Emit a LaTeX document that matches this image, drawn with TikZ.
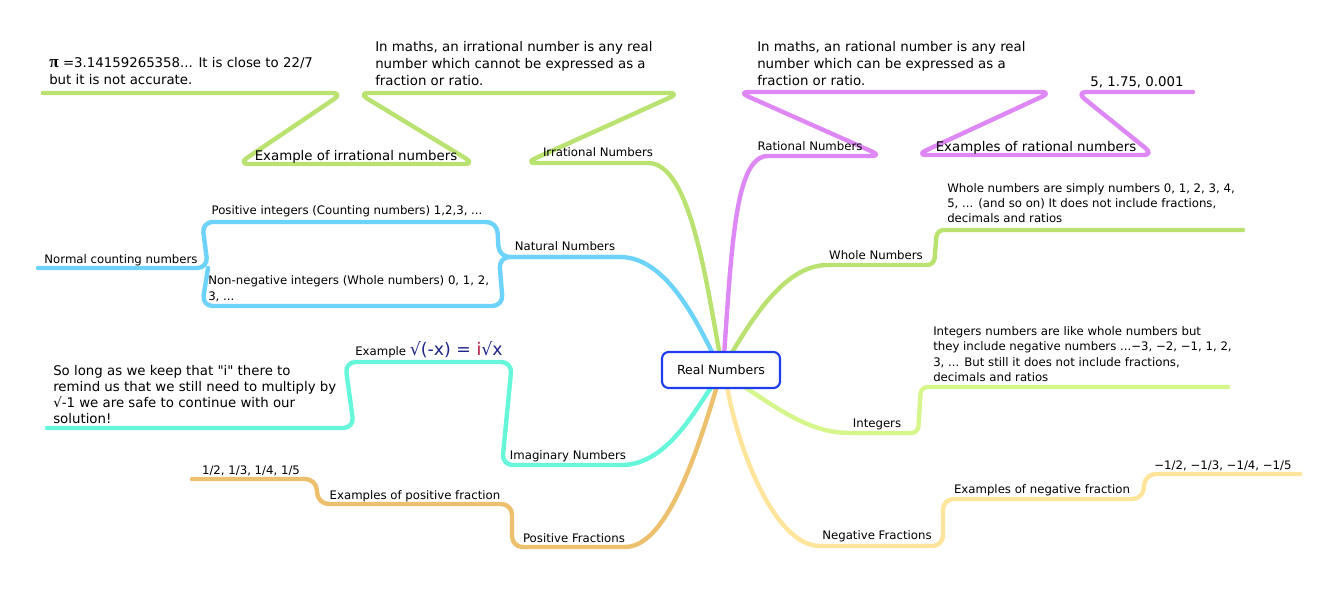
\documentclass[tikz,border=0pt]{standalone}
\usepackage{fontspec}
\setmainfont{DejaVu Sans}[Ligatures=TeXOff]
\newfontfamily\piserif{Liberation Serif}
\definecolor{irrc}{HTML}{B9E270}
\definecolor{ratc}{HTML}{DD88F4}
\definecolor{natc}{HTML}{6ED3FA}
\definecolor{intc}{HTML}{D4F68A}
\definecolor{imc}{HTML}{66F6DA}
\definecolor{posc}{HTML}{EDC06E}
\definecolor{negc}{HTML}{FFE49B}
\definecolor{rblue}{HTML}{1E3CF0}
\definecolor{navy}{HTML}{1E2488}
\definecolor{imred}{HTML}{B0103A}
\begin{document}
\begin{tikzpicture}[x=0.75pt,y=-0.75pt,
  br/.style={line width=3.3pt,line cap=round,line join=round},
  hp/.style={br,rounded corners=8pt},
  rc/.style={br,rounded corners=5pt},
  lbl/.style={font=\fontsize{8.8}{11}\selectfont,inner sep=0pt,anchor=base},
  biglbl/.style={font=\fontsize{10}{12.75}\selectfont,inner sep=0pt,anchor=base},
  para/.style={inner sep=0pt,anchor=north west,align=left},
]
\useasboundingbox (0,0) rectangle (1338,591);

% ---------- coordinates ----------
\coordinate (sIrr) at (720,356);
\coordinate (irrR) at (648,163);
\coordinate (irrL) at (525,163);
\coordinate (irdR) at (680,93);
\coordinate (irdL) at (358,93);
\coordinate (exiR) at (475,164);
\coordinate (exiL) at (238,164);
\coordinate (piR) at (343,93);
\coordinate (piL) at (43,93);

\coordinate (sRat) at (724,356);
\coordinate (ratL) at (768,156);
\coordinate (ratR) at (882,156);
\coordinate (rdL) at (738,92);
\coordinate (rdR) at (1052,92);
\coordinate (exrL) at (916,155);
\coordinate (exrR) at (1154,155);
\coordinate (rvL) at (1076,92);
\coordinate (rvR) at (1193,92);

\coordinate (sWh) at (730,356);
\coordinate (whL) at (828,265);
\coordinate (whR) at (934,265);
\coordinate (wdL) at (937,230);
\coordinate (wdR) at (1243,230);

\coordinate (sInt) at (740,384);
\coordinate (intL) at (850,433);
\coordinate (intR) at (918,433);
\coordinate (idL) at (921,387);
\coordinate (idR) at (1228,387);

\coordinate (sNat) at (714,356);
\coordinate (natR) at (620,257);
\coordinate (natL) at (499,257);
\coordinate (pnR) at (497,222);
\coordinate (pnL) at (202,222);
\coordinate (nmR) at (208,268);
\coordinate (nmL) at (38,268);
\coordinate (nnR) at (503,306);
\coordinate (nnL) at (202,306);

\coordinate (sIm) at (714,384);
\coordinate (imR) at (622,465);
\coordinate (imL) at (502,465);
\coordinate (eiR) at (512,362);
\coordinate (eiL) at (345,362);
\coordinate (imdR) at (354,428);
\coordinate (imdL) at (47,428);

\coordinate (sPos) at (717,386);
\coordinate (poR) at (625,547);
\coordinate (poL) at (512,547);
\coordinate (epR) at (512,504);
\coordinate (epL) at (318,504);
\coordinate (pvR) at (316,479);
\coordinate (pvL) at (192,479);

\coordinate (sNeg) at (727,386);
\coordinate (ngL) at (820,546);
\coordinate (ngR) at (943,546);
\coordinate (enL) at (943,499);
\coordinate (enR) at (1143,499);
\coordinate (nvL) at (1145,474);
\coordinate (nvR) at (1300,474);

% ---------- branches ----------
\draw[br,irrc] (sIrr) .. controls (706,280) and (690,163) .. (irrR);
\draw[hp,irrc] (irrR) -- (irrL) -- (irdR) -- (irdL) -- (exiR) -- (exiL) -- (piR) -- (piL);

\draw[br,ratc] (sRat) .. controls (732,240) and (736,156) .. (ratL);
\draw[hp,ratc] (ratL) -- (ratR) -- (rdL) -- (rdR) -- (exrL) -- (exrR) -- (rvL) -- (rvR);

\draw[br,irrc] (sWh) .. controls (760,305) and (790,265) .. (whL);
\draw[rc,irrc] (whL) -- (whR) -- (wdL) -- (wdR);

\draw[br,intc] (sInt) .. controls (780,410) and (810,433) .. (intL);
\draw[rc,intc] (intL) -- (intR) -- (idL) -- (idR);

\draw[br,natc] (sNat) .. controls (695,318) and (665,257) .. (natR);
\draw[hp,natc] (natR) -- (natL) -- (pnR) -- (pnL) -- (nmR) -- (nmL);
\draw[hp,natc] (natR) -- (natL) -- (nnR) -- (nnL) -- (nmR);

\draw[br,imc] (sIm) .. controls (700,400) and (670,465) .. (imR);
\draw[hp,imc] (imR) -- (imL) -- (eiR) -- (eiL) -- (imdR) -- (imdL);

\draw[br,posc] (sPos) .. controls (695,460) and (665,547) .. (poR);
\draw[hp,posc] (poR) -- (poL) -- (epR) -- (epL) -- (pvR) -- (pvL);

\draw[br,negc] (sNeg) .. controls (738,450) and (775,546) .. (ngL);
\draw[hp,negc] (ngL) -- (ngR) -- (enL) -- (enR) -- (nvL) -- (nvR);

% ---------- centre ----------
\node[draw=rblue,line width=1.6pt,fill=white,rounded corners=5pt,
      minimum width=88.5pt,minimum height=27pt,
      font=\fontsize{9.4}{11}\selectfont] (real) at (721,370) {Real Numbers};

% ---------- labels ----------
\node[lbl] (irr) at (598,157) {Irrational Numbers};
\node[lbl] (rat) at (810,151) {Rational Numbers};
\node[lbl] (whole) at (876,260) {Whole Numbers};
\node[lbl] (int) at (877,427) {Integers};
\node[lbl] (neg) at (877,539) {Negative Fractions};
\node[lbl] (exneg) at (1042,493) {Examples of negative fraction};
\node[lbl] (negval) at (1223,469) {−1/2, −1/3, −1/4, −1/5};
\node[lbl] (pos) at (574,542) {Positive Fractions};
\node[lbl] (expos) at (415,499) {Examples of positive fraction};
\node[lbl] (posval) at (251,474) {1/2, 1/3, 1/4, 1/5};
\node[lbl] (imag) at (568,459) {Imaginary Numbers};
\node[lbl] (nat) at (565,251) {Natural Numbers};
\node[lbl] (posint) at (347,215) {Positive integers (Counting numbers) 1,2,3, ...};
\node[lbl] (normal) at (121,264) {Normal counting numbers};

\node[biglbl] (exirr) at (356,161) {Example of irrational numbers};
\node[biglbl] (exrat) at (1036,152) {Examples of rational numbers};
\node[biglbl] (ratval) at (1137,87) {5, 1.75, 0.001};

\node[inner sep=0pt,anchor=base west] (exim) at (355,356)
  {\fontsize{8.8}{11}\selectfont Example {\fontsize{13}{14}\selectfont\color{navy}√(-x) = \textcolor{imred}{i}√x}};

% ---------- paragraphs ----------
\node[para,font=\fontsize{10}{12.75}\selectfont] (pitxt) at (49,57.5)
  {{\piserif\bfseries\fontsize{13}{12.75}\selectfont π} =3.14159265358... It is close to 22/7\\but it is not accurate.};
\node[para,font=\fontsize{10}{12.75}\selectfont] (irrdesc) at (375,41.5)
  {In maths, an irrational number is any real\\number which cannot be expressed as a\\fraction or ratio.};
\node[para,font=\fontsize{10}{12.75}\selectfont] (ratdesc) at (757,41.5)
  {In maths, an rational number is any real\\number which can be expressed as a\\fraction or ratio.};
\node[para,font=\fontsize{8.8}{11.25}\selectfont] (whdesc) at (947,183.3)
  {Whole numbers are simply numbers 0, 1, 2, 3, 4,\\5, ... (and so on) It does not include fractions,\\decimals and ratios};
\node[para,font=\fontsize{8.8}{11.5}\selectfont] (intdesc) at (933,326.3)
  {Integers numbers are like whole numbers but\\they include negative numbers ...−3, −2, −1, 1, 2,\\3, ... But still it does not include fractions,\\decimals and ratios};
\node[para,font=\fontsize{8.8}{12}\selectfont] (nonneg) at (208,275.3)
  {Non-negative integers (Whole numbers) 0, 1, 2,\\3, ...};
\node[para,font=\fontsize{10}{12}\selectfont] (imdesc) at (53,365.5)
  {So long as we keep that "i" there to\\remind us that we still need to multiply by\\√-1 we are safe to continue with our\\solution!};
\end{tikzpicture}
\end{document}
